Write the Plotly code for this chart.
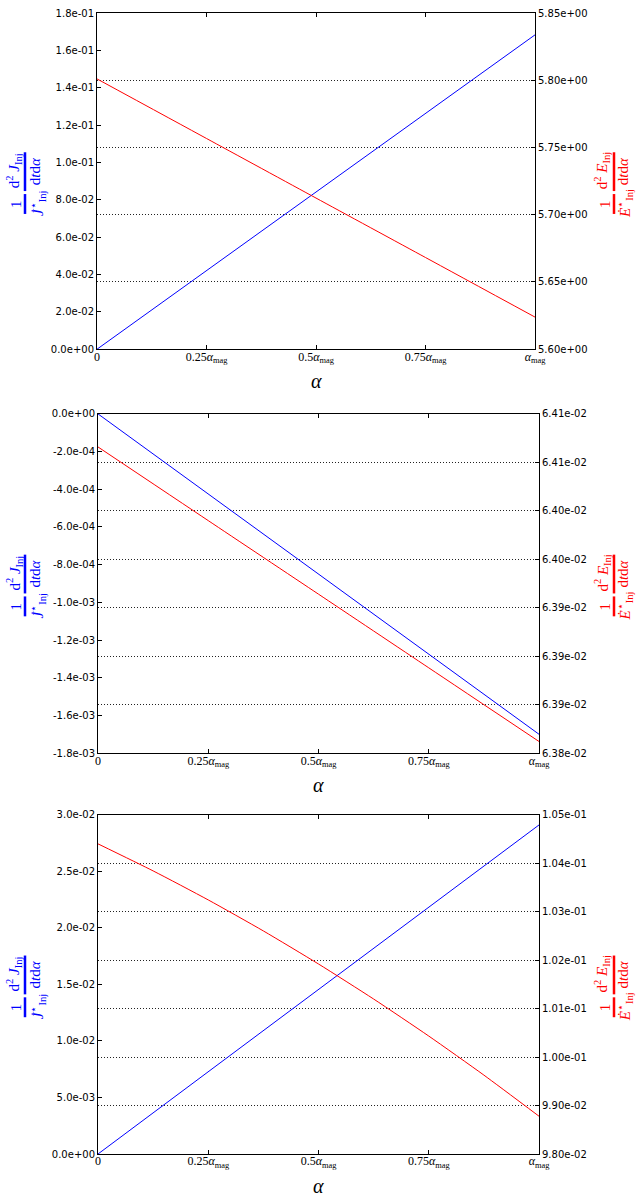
import plotly.graph_objects as go

# ---- data (alpha in units of alpha_mag) ----
alpha = [0.0, 0.25, 0.5, 0.75, 1.0]
alpha_fine = [0.0, 0.125, 0.25, 0.375, 0.5, 0.625, 0.75, 0.875, 1.0]

# panel 1
j_rate_1 = [0.0, 0.0421, 0.0842, 0.1262, 0.1683]
e_rate_1 = [5.8010, 5.7567, 5.7124, 5.6682, 5.6239]
# panel 2
j_rate_2 = [0.0, -4.25e-4, -8.50e-4, -1.275e-3, -1.70e-3]
e_rate_2 = [0.0640727, 0.0640119, 0.0639512, 0.0638904, 0.0638296]
# panel 3
j_rate_3 = [0.0, 0.00364, 0.00728, 0.01091, 0.01455, 0.01819, 0.02183, 0.02546, 0.0291]
e_rate_3 = [0.104400, 0.103842, 0.103243, 0.102603, 0.101921, 0.101198, 0.100434, 0.099628, 0.098780]

# ---- tick values ----
x_ticks = [0.0, 0.25, 0.5, 0.75, 1.0]
x_ticktext = ["0",
              "0.25<i>α</i><sub>mag</sub>",
              "0.5<i>α</i><sub>mag</sub>",
              "0.75<i>α</i><sub>mag</sub>",
              "<i>α</i><sub>mag</sub>"]

left_ticks_1 = [0.0, 0.02, 0.04, 0.06, 0.08, 0.10, 0.12, 0.14, 0.16, 0.18]
right_ticks_1 = [5.60, 5.65, 5.70, 5.75, 5.80, 5.85]
left_ticks_2 = [0.0, -2e-4, -4e-4, -6e-4, -8e-4, -1.0e-3, -1.2e-3, -1.4e-3, -1.6e-3, -1.8e-3]
right_ticks_2 = [0.06382, 0.06386, 0.06390, 0.06394, 0.06398, 0.06402, 0.06406, 0.06410]
left_ticks_3 = [0.0, 0.005, 0.010, 0.015, 0.020, 0.025, 0.030]
right_ticks_3 = [0.098, 0.099, 0.100, 0.101, 0.102, 0.103, 0.104, 0.105]

left_ranges = [[0.0, 0.18], [-1.8e-3, 0.0], [0.0, 0.03]]
right_ranges = [[5.60, 5.85], [0.06382, 0.06410], [0.098, 0.105]]

BLUE = "#0000ff"
RED = "#ff0000"
W, H = 636, 1197
ML, MR, MT, MB = 97, 97, 7, 43
PW, PH = W - ML - MR, H - MT - MB

def px(xp):
    return (xp - ML) / PW

def py(yp):
    return (H - MB - yp) / PH

# pixel boxes of the three panels: (left, right, top, bottom)
panels = [(97, 535, 7, 345), (98, 539, 410, 751), (98, 539, 813, 1154)]

fig = go.Figure()

series = [(alpha, j_rate_1, alpha, e_rate_1),
          (alpha, j_rate_2, alpha, e_rate_2),
          (alpha_fine, j_rate_3, alpha_fine, e_rate_3)]

for i, (xa, ja, xb, eb) in enumerate(series):
    xs = "x" if i == 0 else f"x{i+1}"
    yl = "y" if i == 0 else f"y{2*i+1}"
    yr = f"y{2*i+2}"
    fig.add_trace(go.Scatter(x=xa, y=ja, mode="lines", xaxis=xs, yaxis=yl,
                             line=dict(color=BLUE, width=1), showlegend=False))
    fig.add_trace(go.Scatter(x=xb, y=eb, mode="lines", xaxis=xs, yaxis=yr,
                             line=dict(color=RED, width=1, shape="spline",
                                       smoothing=0.6),
                             showlegend=False))

tick_font = dict(family="DejaVu Sans", size=10, color="black")
left_ticks = [left_ticks_1, left_ticks_2, left_ticks_3]
right_ticks = [right_ticks_1, right_ticks_2, right_ticks_3]

layout = dict(width=W, height=H, margin=dict(l=ML, r=MR, t=MT, b=MB),
              paper_bgcolor="white", plot_bgcolor="white", showlegend=False)

shapes = []
annotations = []

num_font_b = dict(family="Liberation Serif", size=15, color=BLUE)
num_font_r = dict(family="Liberation Serif", size=15, color=RED)

for i, (l, r, t, b) in enumerate(panels):
    xkey = "xaxis" if i == 0 else f"xaxis{i+1}"
    ylkey = "yaxis" if i == 0 else f"yaxis{2*i+1}"
    yrkey = f"yaxis{2*i+2}"
    xname = "x" if i == 0 else f"x{i+1}"
    ylname = "y" if i == 0 else f"y{2*i+1}"
    xdom = [px(l), px(r)]
    ydom = [py(b), py(t)]
    layout[xkey] = dict(domain=xdom, anchor=ylname, range=[0, 1],
                        tickvals=x_ticks, ticktext=x_ticktext,
                        tickfont=dict(family="Liberation Serif", size=12, color="black"),
                        ticks="inside", ticklen=4, tickcolor="black",
                        ticklabelstandoff=-4,
                        showline=True, linecolor="black", linewidth=1,
                        mirror="ticks", showgrid=False, zeroline=False)
    layout[ylkey] = dict(domain=ydom, anchor=xname, range=left_ranges[i],
                         tickvals=left_ticks[i],
                         ticktext=[f"{v:.1e}" for v in left_ticks[i]],
                         tickfont=tick_font, ticks="inside", ticklen=4,
                         tickcolor="black", showline=True, linecolor="black",
                         linewidth=1, showgrid=False, zeroline=False)
    layout[yrkey] = dict(overlaying=ylname, side="right", anchor=xname,
                         range=right_ranges[i], tickvals=right_ticks[i],
                         ticktext=[f"{v:.2e}" for v in right_ticks[i]],
                         tickfont=tick_font, ticks="inside", ticklen=4,
                         tickcolor="black", showline=True, linecolor="black",
                         linewidth=1, showgrid=True, gridcolor="#222222",
                         gridwidth=1, griddash="1px,2px", zeroline=False)

    # x-axis title
    annotations.append(dict(text="<i>α</i>", xref="paper", yref="paper",
                            x=px((l + r) / 2), y=py(b + 32), showarrow=False,
                            xanchor="center", yanchor="middle",
                            font=dict(family="Liberation Serif", size=20, color="black")))

    top = (t + b) / 2 - 29   # top of the stacked axis label
    # left (blue) label: 1/J* * d2J/(dt dalpha)
    annotations += [
        dict(text="d<sup>2</sup> <i>J</i><sub>Inj</sub>", x=px(14), y=py(top + 19),
             textangle=-90, font=num_font_b),
        dict(text="d<i>t</i>d<i>α</i>", x=px(35), y=py(top + 19),
             textangle=-90, font=num_font_b),
        dict(text="1", x=px(16), y=py(top + 52), textangle=-90, font=num_font_b),
        dict(text="<i>J̇</i><sup>⋆</sup><sub>Inj</sub>", x=px(38), y=py(top + 52),
             textangle=-90, font=num_font_b),
    ]
    shapes += [
        dict(type="line", xref="paper", yref="paper", x0=px(25), x1=px(25),
             y0=py(top), y1=py(top + 39), line=dict(color=BLUE, width=2.5)),
        dict(type="line", xref="paper", yref="paper", x0=px(25), x1=px(25),
             y0=py(top + 42), y1=py(top + 62), line=dict(color=BLUE, width=2.5)),
    ]
    # right (red) label: 1/E* * d2E/(dt dalpha)
    annotations += [
        dict(text="d<sup>2</sup> <i>E</i><sub>Inj</sub>", x=px(602), y=py(top + 19),
             textangle=-90, font=num_font_r),
        dict(text="d<i>t</i>d<i>α</i>", x=px(623), y=py(top + 19),
             textangle=-90, font=num_font_r),
        dict(text="1", x=px(605), y=py(top + 52), textangle=-90, font=num_font_r),
        dict(text="<i>Ė</i><sup>⋆</sup><sub>Inj</sub>", x=px(625), y=py(top + 52),
             textangle=-90, font=num_font_r),
    ]
    shapes += [
        dict(type="line", xref="paper", yref="paper", x0=px(614), x1=px(614),
             y0=py(top), y1=py(top + 39), line=dict(color=RED, width=2.5)),
        dict(type="line", xref="paper", yref="paper", x0=px(614), x1=px(614),
             y0=py(top + 42), y1=py(top + 62), line=dict(color=RED, width=2.5)),
    ]

for a in annotations:
    a.setdefault("xref", "paper")
    a.setdefault("yref", "paper")
    a.setdefault("showarrow", False)
    a.setdefault("xanchor", "center")
    a.setdefault("yanchor", "middle")

layout["annotations"] = annotations
layout["shapes"] = shapes
fig.update_layout(**layout)

fig.write_html("out.html")
